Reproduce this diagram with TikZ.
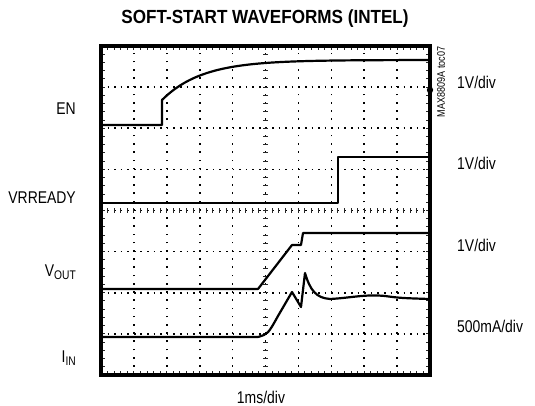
\documentclass[tikz,border=0pt]{standalone}
\usepackage{fontspec}
\setmainfont{Liberation Sans}[FakeStretch=0.82]
\newfontfamily\titlefont{Liberation Sans}[FakeStretch=0.9]

\begin{document}
\begin{tikzpicture}[x=1pt,y=1pt,
            trace/.style={line width=2.2pt,line join=round,black},
            vdots/.style={black,line width=1.6pt,dash pattern=on 1.6pt off 6.625pt},
            hdots/.style={black,line width=1.6pt,dash pattern=on 1.6pt off 4.98pt},
            tick/.style={black!85,line width=1pt},
            lbl/.style={font=\fontsize{17}{20}\selectfont,inner sep=0pt},
            ]
            \useasboundingbox (0,0) rectangle (535,406);
            \begin{scope}
                \foreach \i in {1,...,9}
                    \draw[vdots] ({101+\i*32.9},31) -- ({101+\i*32.9},360);
                \foreach \j in {1,...,7}
                    \draw[hdots] (101,{31+\j*41.125}) -- (430,{31+\j*41.125});
                \foreach \k in {1,...,49} {
                    \draw[tick] ({101+\k*6.58},193) -- ({101+\k*6.58},198);
                    \draw[tick] ({101+\k*6.58},31) -- ({101+\k*6.58},35);
                    \draw[tick] ({101+\k*6.58},356) -- ({101+\k*6.58},360);
                }
                \foreach \k in {1,...,39} {
                    \draw[tick] (263,{31+\k*8.225}) -- (268,{31+\k*8.225});
                    \draw[tick] (101,{31+\k*8.225}) -- (105,{31+\k*8.225});
                    \draw[tick] (426,{31+\k*8.225}) -- (430,{31+\k*8.225});
                }
                \draw[line width=3.2pt] (101,31) rectangle (430,360);
                \fill (430,316) circle (3.2);

                \draw[trace] (101,281) -- (162,281) -- (162,306)
                    -- plot[domain=162:429,samples=60] (\x,{346-40*exp(-(\x-162)/40)});
                \draw[trace] (101,203) -- (338,203) -- (338,249) -- (429,249);
                \draw[trace] (101,117) -- (258,117) -- (292,161) -- (301,161) -- (303,173) -- (429,173);
                \draw[trace] (101,69) -- (258,69) .. controls (268,72) .. (278,90) -- (292,114)
                    -- (301,99) -- (305,133) .. controls (310,116) and (316,108) .. (330,107)
                    .. controls (350,108) and (365,112) .. (385,110) .. controls (400,108) .. (429,107);
            \end{scope}

            \node[lbl,anchor=east] (en) at (76,297) {EN};
            \node[lbl,anchor=east] (vrready) at (76,208) {VRREADY};
            \node[lbl,anchor=east] (vout) at (76,134) {V\raisebox{-0.35ex}{\fontsize{12.5}{14}\selectfont OUT}};
            \node[lbl,anchor=east] (iin) at (76,48) {I\raisebox{-0.35ex}{\fontsize{12.5}{14}\selectfont IN}};

            \node[lbl,anchor=west] (endiv) at (457,324) {1V/div};
            \node[lbl,anchor=west] (vrdiv) at (457,243) {1V/div};
            \node[lbl,anchor=west] (voutdiv) at (457,161) {1V/div};
            \node[lbl,anchor=west] (iindiv) at (457,80) {500mA/div};

            \node[lbl] (tdiv) at (261,9) {1ms/div};
            \node[inner sep=0pt,font=\titlefont\bfseries\fontsize{19}{22}\selectfont] (title) at (265,387) {SOFT-START WAVEFORMS (INTEL)};
            \node[inner sep=0pt,rotate=90,font=\fontsize{11}{12}\selectfont] (tocid) at (441,324) {MAX8809A toc07};
        \end{tikzpicture}
\end{document}
